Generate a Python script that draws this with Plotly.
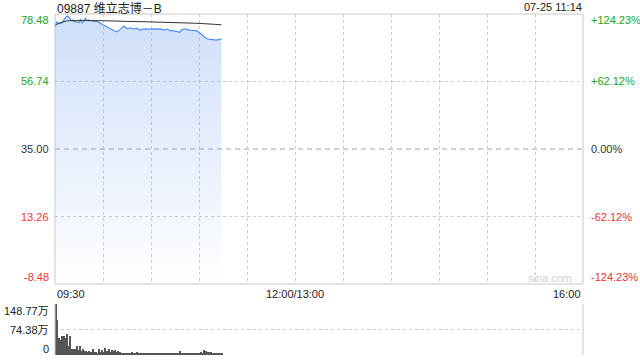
import plotly.graph_objects as go

# ---- data -------------------------------------------------------------
title_text = "09887 维立志博－B"
stamp_text = "07-25 11:14"
prev_close = 35.00

# minutes since 09:30 (trading clock, lunch break removed)
minutes = list(range(105))
price = [74.2, 76.0, 75.3, 75.7, 75.5, 76.3, 77.1, 77.6, 77.8, 77.4,
         76.3, 76.5, 75.9, 76.3, 75.8, 75.7, 76.8, 75.5, 76.3, 77.1,
         76.3, 76.6, 76.3, 76.4, 76.1, 76.2, 76.1, 75.9, 75.7, 75.3,
         75.0, 74.7, 74.4, 74.2, 74.0, 73.6, 73.3, 73.1, 72.9, 72.8,
         73.2, 73.6, 74.1, 74.6, 74.2, 73.8, 73.9, 74.0, 73.8, 73.6,
         73.8, 73.9, 73.6, 73.3, 73.5, 73.6, 73.7, 73.7, 73.6, 73.6,
         73.7, 73.8, 73.7, 73.6, 73.6, 73.7, 73.7, 73.5, 73.3, 73.5,
         73.6, 73.4, 73.1, 73.1, 73.1, 73.0, 72.9, 72.7, 72.6, 73.3,
         73.6, 73.6, 73.6, 73.5, 73.3, 73.3, 73.3, 73.2, 73.1, 72.9,
         72.6, 72.3, 71.8, 71.2, 70.8, 70.5, 70.4, 70.3, 70.3, 70.3,
         70.2, 70.1, 70.2, 70.3, 70.4]
avg_minutes = [0, 1, 2, 3, 5, 7, 9, 15, 25, 35, 45, 55, 65, 75, 85, 92, 98, 104]
avg_price = [74.6, 75.1, 75.4, 75.6, 75.9, 76.2, 76.35, 76.4, 76.35, 76.25,
             76.1, 76.0, 75.85, 75.7, 75.55, 75.4, 75.2, 75.0]
volume = [148.77, 103, 50, 45, 54, 54, 49, 62, 27, 54,
          17, 17, 18, 26, 15, 26, 12, 17, 13, 11,
          10, 12, 9, 17, 8, 10, 6, 18, 9, 14,
          10, 20, 12, 17, 9, 14, 13, 14, 8, 12,
          9, 4, 5, 6, 4, 7, 4, 6, 8, 5,
          3, 9, 4, 4, 7, 5, 3, 4, 3, 4,
          6, 3, 4, 3, 5, 4, 3, 5, 4, 6,
          3, 4, 3, 5, 4, 6, 7, 4, 12, 5,
          7, 4, 3, 5, 4, 6, 3, 5, 4, 6,
          3, 8, 7, 16, 13, 9, 8, 10, 6, 7,
          4, 6, 5, 3, 4]

price_ticks = [78.48, 56.74, 35.00, 13.26, -8.48]
price_labels = ["78.48", "56.74", "35.00", "13.26", "-8.48"]
pct_labels = ["+124.23%", "+62.12%", "0.00%", "-62.12%", "-124.23%"]
vol_ticks = [148.77, 74.38, 0]
vol_labels = ["148.77万", "74.38万", "0"]
time_ticks = [0, 150, 330]
time_labels = ["09:30", "12:00/13:00", "16:00"]

# ---- styling ----------------------------------------------------------
W, H = 640, 360
X0, X1 = 55, 583            # plot area, pixels
P_TOP, P_BOT = 14, 284      # price panel
V_TOP, V_BOT = 304, 355     # volume panel
FONT = "Liberation Sans, Arial, Noto Sans CJK SC, sans-serif"
UP, DOWN, FLAT = "#22a322", "#ee3535", "#333333"
GRID = "#cccccc"


def py(p):
    return 1 - p / H


def px(p):
    return p / W


fig = go.Figure()

# baseline for the gradient fill under the price line
fig.add_trace(go.Scatter(x=[minutes[0], minutes[-1]], y=[price_ticks[-1]] * 2,
                         mode="lines", line=dict(width=0), hoverinfo="skip",
                         showlegend=False, xaxis="x", yaxis="y"))
fig.add_trace(go.Scatter(x=minutes, y=price, mode="lines",
                         line=dict(color="#4f8ff0", width=1.2),
                         fill="tonexty",
                         fillgradient=dict(type="vertical", start=price_ticks[-1],
                                           stop=price_ticks[0],
                                           colorscale=[[0, "rgba(120,165,240,0.0)"],
                                                       [1, "rgba(120,165,240,0.36)"]]),
                         showlegend=False, xaxis="x", yaxis="y"))
fig.add_trace(go.Scatter(x=avg_minutes, y=avg_price, mode="lines",
                         line=dict(color="#333333", width=1, shape="spline"),
                         showlegend=False, xaxis="x", yaxis="y"))
fig.add_trace(go.Bar(x=minutes, y=volume, width=0.62, marker=dict(color="#555555", line=dict(width=0)),
                     showlegend=False, xaxis="x2", yaxis="y2"))

xax = dict(range=[0, 330], tickvals=list(range(30, 330, 30)), showticklabels=False,
           showgrid=True, gridcolor=GRID, griddash="dot", gridwidth=1,
           zeroline=False, showline=False, ticks="", fixedrange=True)

fig.update_layout(
    width=W, height=H, margin=dict(l=0, r=0, t=0, b=0),
    paper_bgcolor="white", plot_bgcolor="white",
    font=dict(family=FONT, size=11, color="#333"),
    bargap=0,
    xaxis=dict(domain=[px(X0), px(X1)], anchor="y", **xax),
    yaxis=dict(domain=[py(P_BOT), py(P_TOP)], range=[price_ticks[-1], price_ticks[0]],
               tickvals=[price_ticks[1], price_ticks[3]], showticklabels=False,
               showgrid=True, gridcolor=GRID, griddash="dot", zeroline=False, ticks=""),
    xaxis2=dict(domain=[px(X0), px(X1)], anchor="y2", range=[-0.5, 330],
                showgrid=False, showticklabels=False, zeroline=False, ticks=""),
    yaxis2=dict(domain=[py(V_BOT), py(V_TOP)], range=[0, vol_ticks[0]],
                tickvals=vol_ticks, showticklabels=False, showgrid=True,
                gridcolor=GRID, griddash="dot", zeroline=False, ticks=""),
)

shapes = []
# price panel frame
for x0, y0, x1, y1 in [(X0, P_TOP, X1, P_TOP), (X0, P_BOT, X1, P_BOT),
                       (X0, P_TOP, X0, P_BOT), (X1, P_TOP, X1, P_BOT)]:
    shapes.append(dict(type="line", xref="paper", yref="paper",
                       x0=px(x0), x1=px(x1), y0=py(y0), y1=py(y1),
                       line=dict(color="#c8c8c8", width=1)))
# previous close reference line
shapes.append(dict(type="line", xref="paper", yref="y", x0=px(X0), x1=px(X1),
                   y0=prev_close, y1=prev_close, layer="below",
                   line=dict(color="#a0a0a0", width=1, dash="5px,4px")))
# volume panel side lines
for x in (X0, X1):
    shapes.append(dict(type="line", xref="paper", yref="paper", x0=px(x), x1=px(x),
                       y0=py(V_BOT), y1=py(V_TOP), line=dict(color="#c8c8c8", width=1)))
fig.update_layout(shapes=shapes)

ann = []
ann.append(dict(text=title_text, x=px(X0), y=py(8), xref="paper", yref="paper",
                xanchor="left", yanchor="middle", showarrow=False,
                font=dict(size=12, color="#222",
                          family="Liberation Sans, Noto Sans CJK SC, sans-serif")))
ann.append(dict(text=stamp_text, x=px(X1 + 1), y=py(7), xref="paper", yref="paper",
                xanchor="right", yanchor="middle", showarrow=False,
                font=dict(size=11, color="#222")))

shift = [-6, 0, 0, 0, 7]
colors = [UP, UP, FLAT, DOWN, DOWN]
for v, lab, pct, s, c in zip(price_ticks, price_labels, pct_labels, shift, colors):
    ann.append(dict(text=lab, x=px(X0 - 4), y=v, xref="paper", yref="y", yshift=s,
                    xanchor="right", yanchor="middle", showarrow=False,
                    font=dict(size=11, color=c)))
    ann.append(dict(text=pct, x=px(X1 + 6), y=v, xref="paper", yref="y", yshift=s,
                    xanchor="left", yanchor="middle", showarrow=False,
                    font=dict(size=11, color=c)))

vshift = [-7, 0, 6]
for v, lab, s in zip(vol_ticks, vol_labels, vshift):
    ann.append(dict(text=lab, x=px(X0 - 4), y=v, xref="paper", yref="y2", yshift=s,
                    xanchor="right", yanchor="middle", showarrow=False,
                    font=dict(size=11, color="#222")))

anchors = ["left", "center", "right"]
for t, lab, a in zip(time_ticks, time_labels, anchors):
    ann.append(dict(text=lab, x=t, y=py(294), xref="x", yref="paper",
                    xanchor=a, yanchor="middle", showarrow=False,
                    font=dict(size=11, color="#222")))

ann.append(dict(text="sina.com", x=px(574), y=py(278), xref="paper", yref="paper",
                xanchor="right", yanchor="middle", showarrow=False,
                font=dict(size=11, color="#d2d2d2")))
fig.update_layout(annotations=ann)

fig.write_html("out.html")
